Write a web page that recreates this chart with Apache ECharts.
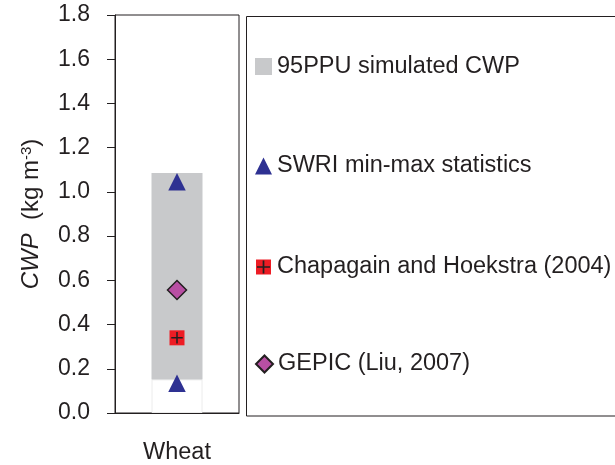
<!DOCTYPE html>
<html>
<head>
<meta charset="utf-8">
<script src="https://cdn.jsdelivr.net/npm/echarts@6/dist/echarts.min.js"></script>
<style>
  html, body { margin: 0; padding: 0; background: #fff; }
  #cwp_chart { width: 615px; height: 465px; }
</style>
</head>
<body>
<div id="cwp_chart"></div>
<script>
// values
var categories = ['Wheat']
var ppuLower = [0.152]   // 95PPU band, bottom
var ppuUpper = [1.085]   // 95PPU band, top
var swriMin = [0.134]
var swriMax = [1.046]
var chapagain = [0.34]
var gepic = [0.556]

var names = {
  ppu: '95PPU simulated CWP',
  swri: 'SWRI min-max statistics',
  chap: 'Chapagain and Hoekstra (2004)',
  gepic: 'GEPIC (Liu, 2007)'
}

var ink = '#231f20'
var font = 'Liberation Sans, Arial, sans-serif'

// small plus inside a 34x34 frame (the corner moves keep the frame size)
var plusPath = 'path://M0,0L0,0M34,34L34,34M4,15.3H30V18.7H4ZM15.3,4H18.7V30H15.3Z'
var redBox = 'path://M0,0L0,0M34,34L34,34M2,2H32V32H2Z'

var bandSize = ppuUpper.map(function (v, i) { return +(v - ppuLower[i]).toFixed(3) })
var swriData = []
categories.forEach(function (c, i) {
  swriData.push([c, swriMin[i]])
  swriData.push([c, swriMax[i]])
})

function legendAt(name, icon, top, extra) {
  var l = {
    data: [{ name: name, icon: icon }],
    left: 255,
    top: top,
    padding: 0,
    itemWidth: 17,
    itemHeight: 17,
    selectedMode: false,
    textStyle: { fontSize: 23.5, lineHeight: 24, color: ink, fontFamily: font }
  }
  if (extra) Object.assign(l, extra)
  return l
}

var option = {
  backgroundColor: '#fff',
  animation: false,
  grid: {
    left: 115,
    top: 15,
    width: 124,
    height: 399,
    show: true,
    borderColor: ink,
    borderWidth: 1
  },
  legend: [
    legendAt(names.ppu, 'rect', 54.5),
    legendAt(names.swri, 'triangle', 154),
    legendAt(names.chap, redBox, 255),
    legendAt('plus', plusPath, 255, {
      formatter: function () { return names.chap },
      textStyle: { fontSize: 23.5, lineHeight: 24, color: 'rgba(0,0,0,0)', fontFamily: font }
    }),
    legendAt(names.gepic, 'diamond', 352)
  ],
  xAxis: {
    type: 'category',
    data: categories,
    axisLine: { lineStyle: { color: ink, width: 1 } },
    axisTick: { length: 9, lineStyle: { color: ink } },
    axisLabel: { margin: 28, fontSize: 23.5, lineHeight: 24, color: ink, fontFamily: font },
    splitLine: { show: false }
  },
  yAxis: {
    type: 'value',
    min: 0,
    max: 1.8,
    interval: 0.2,
    name: '{i|CWP}  (kg m{s|-3})',
    nameLocation: 'middle',
    nameGap: 72,
    nameTextStyle: {
      fontSize: 24,
      color: ink,
      fontFamily: font,
      rich: {
        i: { fontSize: 24, fontStyle: 'italic', color: ink, fontFamily: font },
        s: { fontSize: 15, color: ink, fontFamily: font, verticalAlign: 'top', lineHeight: 12 }
      }
    },
    axisLine: { show: true, lineStyle: { color: ink, width: 1 } },
    axisTick: { show: true, length: 8, lineStyle: { color: ink } },
    axisLabel: {
      margin: 25,
      fontSize: 23,
      color: ink,
      fontFamily: font,
      formatter: function (v) { return v.toFixed(1) }
    },
    splitLine: { show: false }
  },
  series: [
    {
      name: 'base',
      type: 'bar',
      stack: 'ppu',
      barWidth: 51,
      data: ppuLower,
      itemStyle: { color: '#ffffff', borderColor: '#ececec', borderWidth: 1 },
      silent: true
    },
    {
      name: names.ppu,
      type: 'bar',
      stack: 'ppu',
      barWidth: 51,
      data: bandSize,
      itemStyle: { color: '#c8c9cb' }
    },
    {
      name: names.swri,
      type: 'scatter',
      symbol: 'triangle',
      symbolSize: 17.5,
      data: swriData,
      itemStyle: { color: '#2e3192', opacity: 1 }
    },
    {
      name: names.chap,
      type: 'scatter',
      symbol: 'rect',
      symbolSize: 15,
      data: categories.map(function (c, i) { return [c, chapagain[i]] }),
      itemStyle: { color: '#ed1c24', opacity: 1 }
    },
    {
      name: 'plus',
      type: 'scatter',
      symbol: plusPath,
      symbolSize: 15,
      data: categories.map(function (c, i) { return [c, chapagain[i]] }),
      itemStyle: { color: ink, opacity: 1 }
    },
    {
      name: names.gepic,
      type: 'scatter',
      symbol: 'diamond',
      symbolSize: 19,
      data: categories.map(function (c, i) { return [c, gepic[i]] }),
      itemStyle: { color: '#b84fa3', borderColor: ink, borderWidth: 1.5, opacity: 1 }
    }
  ],
  graphic: [
    {
      type: 'rect',
      silent: true,
      shape: { x: 246.5, y: 16.5, width: 420, height: 399.5 },
      style: { fill: 'none', stroke: ink, lineWidth: 1 }
    }
  ]
}

var cwp_chart = echarts.init(document.getElementById('cwp_chart'), null, { renderer: 'canvas' })
cwp_chart.setOption(option)
</script>
</body>
</html>
